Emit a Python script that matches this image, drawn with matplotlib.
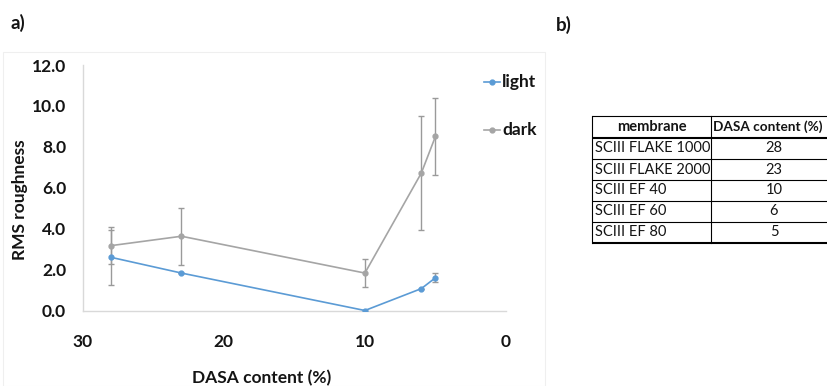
import matplotlib
matplotlib.use("Agg")
import matplotlib.pyplot as plt
from matplotlib.lines import Line2D
from matplotlib.patches import Rectangle

# ---- data ---------------------------------------------------------------
membranes = ["SCIII FLAKE 1000", "SCIII FLAKE 2000", "SCIII EF 40",
             "SCIII EF 60", "SCIII EF 80"]
dasa_content = [28, 23, 10, 6, 5]

light_rms = [2.6, 1.83, 0.0, 1.07, 1.6]
light_err = [1.35, 0.0, 0.0, 0.0, 0.22]

dark_rms = [3.17, 3.63, 1.83, 6.72, 8.51]
dark_err = [0.9, 1.4, 0.67, 2.78, 1.87]

x_ticks = [30, 20, 10, 0]
y_ticks = [0, 2, 4, 6, 8, 10, 12]

# ---- style --------------------------------------------------------------
W, H = 828, 386
plt.rcParams["font.family"] = ["Lato", "DejaVu Sans"]
BLUE = "#5B9BD5"
GREY = "#A5A5A5"
ERR = "#9a9a9a"
AXIS = "#d9d9d9"
TXT = "#141414"


def fx(px):
    return px / W


def fy(py):
    return 1 - py / H


fig = plt.figure(figsize=(W / 100, H / 100), dpi=100)

# faint chart-area frame
fig.add_artist(Rectangle((fx(3), fy(386)), fx(545) - fx(3), fy(52) - fy(386),
                         transform=fig.transFigure, fill=False,
                         edgecolor="#efefef", lw=0.8))

ax = fig.add_axes([fx(82.7), fy(310.5), fx(506) - fx(82.7), fy(65) - fy(310.5)])

for vals, errs, col, name in [(light_rms, light_err, BLUE, "light"),
                              (dark_rms, dark_err, GREY, "dark")]:
    ax.errorbar(dasa_content, vals, yerr=errs, fmt="none", ecolor=ERR,
                elinewidth=1.0, capsize=2.5, capthick=1.0, zorder=2)
    ax.plot(dasa_content, vals, color=col, lw=1.2, marker="o", ms=3.5,
            zorder=3, label=name)

ax.set_xlim(30, 0)
ax.set_ylim(0, 12)
ax.set_xticks(x_ticks)
ax.set_yticks(y_ticks)
ax.set_xticklabels([str(t) for t in x_ticks])
ax.set_yticklabels([f"{t:.1f}" for t in y_ticks])
ax.tick_params(length=0, labelsize=12.5, colors=TXT)
ax.tick_params(axis="y", pad=12)
ax.tick_params(axis="x", pad=17)
for lab in ax.get_xticklabels() + ax.get_yticklabels():
    lab.set_fontweight("bold")
for side in ("top", "right"):
    ax.spines[side].set_visible(False)
for side in ("left", "bottom"):
    ax.spines[side].set_color(AXIS)
    ax.spines[side].set_linewidth(1.0)
ax.patch.set_alpha(0)

# axis titles
fig.text(fx(262), fy(378), "DASA content (%)", ha="center", va="center",
         fontsize=12.5, fontweight="bold", color=TXT)
fig.text(fx(20), fy(200), "RMS roughness", ha="center", va="center",
         rotation=90, fontsize=12.5, fontweight="bold", color=TXT)

# legend entries
for (name, col), ly in zip([("light", BLUE), ("dark", GREY)], [82, 130]):
    fig.add_artist(Line2D([fx(484), fx(500)], [fy(ly), fy(ly)], color=col,
                          lw=1.2, transform=fig.transFigure))
    fig.add_artist(Line2D([fx(492)], [fy(ly)], color=col, marker="o", ms=3.5,
                          transform=fig.transFigure))
    fig.text(fx(502), fy(ly), name, ha="left", va="center", fontsize=12.5,
             fontweight="bold", color=TXT)

# panel letters
fig.text(fx(11), fy(23), "a)", ha="left", va="center", fontsize=13.5,
         fontweight="bold", color=TXT)
fig.text(fx(556), fy(25), "b)", ha="left", va="center", fontsize=13.5,
         fontweight="bold", color=TXT)

# ---- table --------------------------------------------------------------
tl, tm, tr = 592, 711, 836
row_edges = [116, 138, 159, 180, 201, 222, 243]


def hline(y, lw):
    fig.add_artist(Line2D([fx(tl), fx(tr)], [fy(y), fy(y)], color="black",
                          lw=lw, transform=fig.transFigure,
                          solid_capstyle="butt"))


def vline(x):
    fig.add_artist(Line2D([fx(x), fx(x)], [fy(row_edges[0]), fy(row_edges[-1])],
                          color="black", lw=0.8, transform=fig.transFigure))


for i, y in enumerate(row_edges):
    hline(y, 1.5 if i in (1, len(row_edges) - 1) else 0.8)
for x in (tl, tm, tr):
    vline(x)

hdr_y = (row_edges[0] + row_edges[1]) / 2
fig.text(fx((tl + tm) / 2), fy(hdr_y), "membrane", ha="center", va="center",
         fontsize=10.5, fontweight="bold", color=TXT)
fig.text(fx(713), fy(hdr_y), "DASA content (%)", ha="left", va="center",
         fontsize=9.8, fontweight="bold", color=TXT)
for i, (m, d) in enumerate(zip(membranes, dasa_content)):
    cy = (row_edges[i + 1] + row_edges[i + 2]) / 2
    fig.text(fx(595), fy(cy), m, ha="left", va="center", fontsize=10.5,
             color=TXT)
    fig.text(fx(774), fy(cy), str(d), ha="center", va="center", fontsize=10.5,
             color=TXT)

fig.savefig("out.png", dpi=100)
